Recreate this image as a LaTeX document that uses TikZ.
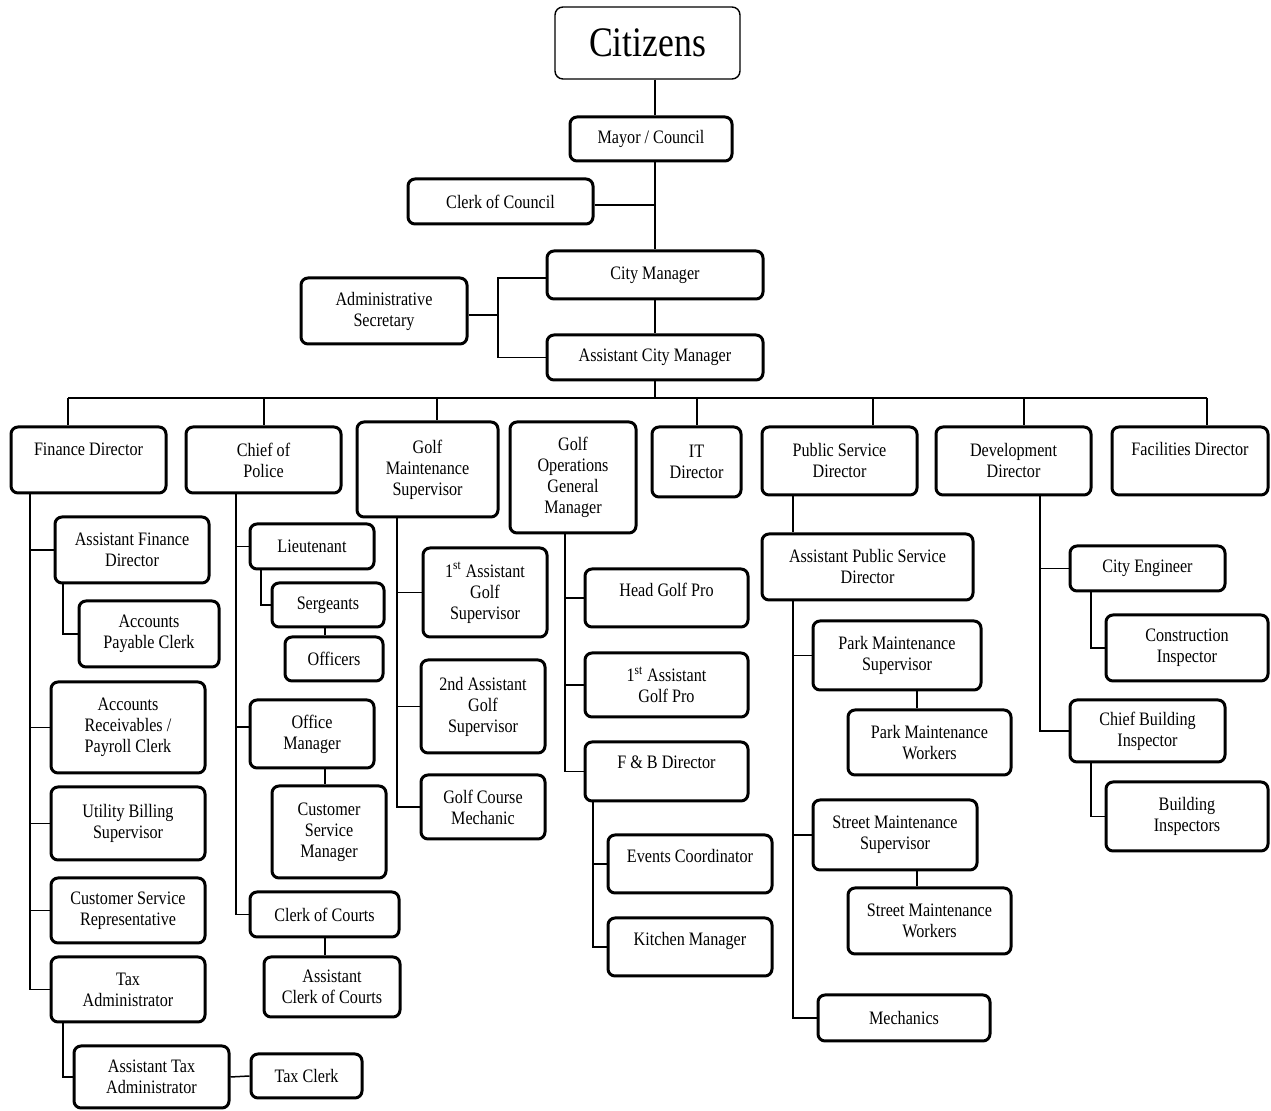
\documentclass[tikz,border=0pt]{standalone}
\usepackage{fontspec}
\setmainfont{Liberation Serif}[FakeStretch=0.85]
\begin{document}
\begin{tikzpicture}[x=0.5pt,y=-0.5pt,
    unit/.style={draw, line width=1.5pt, rounded corners=3.5pt, align=center, inner sep=1pt,
        font=\fontsize{9.5}{10.5}\selectfont},
    sz/.style 2 args={minimum width=#1*0.5pt, minimum height=#2*0.5pt},
    lifted/.style={text height=6.5pt, text depth=#1},
    link/.style={line width=0.75pt}]
    \useasboundingbox (0,0) rectangle (1271,1111);

    % Top of the chart
    \node[draw, line width=0.7pt, rounded corners=4pt, sz={185}{72}, font=\fontsize{21}{24}\selectfont] (cit) at (647.5,43) {Citizens};
    \node[unit, sz={162}{44}] (mayor) at (651,139) {Mayor / Council};
    \node[unit, sz={185}{45}] (clerkc) at (500.5,201.5) {Clerk of Council};
    \node[unit, sz={216}{48}] (cityman) at (655,275) {City Manager};
    \node[unit, sz={166}{66}] (adminsec) at (384,311) {Administrative\\Secretary};
    \node[unit, sz={216}{45}] (acm) at (655,357.5) {Assistant City Manager};

    \draw[link] (cit.south -| acm) -- (mayor.north -| acm);
    \draw[link] (mayor.south -| acm) -- (cityman.north -| acm);
    \draw[link] (clerkc.east |- 0,205) -- (655,205);
    \draw[link] (cityman.south) -- (acm.north);
    \coordinate (asbus) at (498,315);
    \draw[link] (adminsec.east |- asbus) -- (asbus);
    \draw[link] (cityman.west |- 0,278) -| (asbus) |- (acm.west);

    % Department heads
    \node[unit, sz={155}{66}, lifted=11pt] (fin) at (88.5,460) {Finance Director};
    \node[unit, sz={155}{66}] (police) at (263.5,460) {Chief of\\Police};
    \node[unit, sz={141}{95}] (gmaint) at (427.5,469.5) {Golf\\Maintenance\\Supervisor};
    \node[unit, sz={126}{111}] (gops) at (573,477.5) {Golf\\Operations\\General\\Manager};
    \node[unit, sz={89}{70}] (it) at (696.5,462) {IT\\Director};
    \node[unit, sz={155}{68}] (psd) at (839.5,461) {Public Service\\Director};
    \node[unit, sz={155}{68}] (dev) at (1013.5,461) {Development\\Director};
    \node[unit, sz={156}{68}, lifted=12pt] (fac) at (1190,461) {Facilities Director};

    \coordinate (bus) at (655,398);
    \draw[link] (acm.south) -- (bus);
    \draw[link] (68,398) -- (1207,398);
    \foreach \x/\n in {68/fin, 264/police, 437/gmaint, 697/it, 873/psd, 1024/dev, 1207/fac}
        \draw[link] (\x,398) -- (\x,398 |- \n.north);

    % Finance
    \node[unit, sz={154}{66}] (afd) at (132,550) {Assistant Finance\\Director};
    \node[unit, sz={140}{66}] (apc) at (149,634) {Accounts\\Payable Clerk};
    \node[unit, sz={154}{91}] (arpc) at (128,727.5) {Accounts\\Receivables /\\Payroll Clerk};
    \node[unit, sz={154}{73}] (ubs) at (128,823.5) {Utility Billing\\Supervisor};
    \node[unit, sz={154}{65}] (csr) at (128,910.5) {Customer Service\\Representative};
    \node[unit, sz={154}{65}] (tax) at (128,989.5) {Tax\\Administrator};
    \node[unit, sz={155}{62}] (atax) at (151.5,1077) {Assistant Tax\\Administrator};
    \node[unit, sz={111}{44}] (taxclerk) at (306.5,1076) {Tax Clerk};

    \draw[link] (30,0 |- fin.south) |- (tax.west);
    \foreach \n in {afd, arpc, ubs, csr}
        \draw[link] (30,0 |- \n.west) -- (\n.west);
    \draw[link] (63,0 |- afd.south) |- (apc.west);
    \draw[link] (63,0 |- tax.south) |- (atax.west);
    \draw[link] (atax.east) -- (taxclerk.west);

    % Police
    \node[unit, sz={124}{45}] (lt) at (312,546.5) {Lieutenant};
    \node[unit, sz={112}{44}] (sgt) at (328,605) {Sergeants};
    \node[unit, sz={98}{44}] (off) at (334,659) {Officers};
    \node[unit, sz={124}{68}] (offman) at (312,734) {Office\\Manager};
    \node[unit, sz={114}{92}] (csm) at (329,832) {Customer\\Service\\Manager};
    \node[unit, sz={149}{45}] (clerkct) at (324.5,914.5) {Clerk of Courts};
    \node[unit, sz={136}{60}] (aclerk) at (332,987) {Assistant\\Clerk of Courts};

    \draw[link] (236,0 |- police.south) |- (clerkct.west);
    \draw[link] (236,0 |- lt.west) -- (lt.west);
    \draw[link] (236,727) -- (offman.west |- 0,727);
    \draw[link] (261,0 |- lt.south) |- (sgt.west);
    \draw[link] (325,0 |- sgt.south) -- (325,0 |- off.north);
    \draw[link] (325,0 |- offman.south) -- (325,0 |- csm.north);
    \draw[link] (325,0 |- clerkct.south) -- (325,0 |- aclerk.north);

    % Golf maintenance
    \node[unit, sz={124}{89}] (ags1) at (485,592.5) {1\textsuperscript{st} Assistant\\Golf\\Supervisor};
    \node[unit, sz={124}{93}] (ags2) at (483,706.5) {2nd Assistant\\Golf\\Supervisor};
    \node[unit, sz={124}{64}] (gcm) at (483,807) {Golf Course\\Mechanic};

    \draw[link] (397,0 |- gmaint.south) |- (gcm.west);
    \foreach \n in {ags1, ags2}
        \draw[link] (397,0 |- \n.west) -- (\n.west);

    % Golf operations
    \node[unit, sz={163}{58}, lifted=8.2pt] (hgp) at (666.5,598) {Head Golf Pro};
    \node[unit, sz={163}{64}] (agp) at (666.5,685) {1\textsuperscript{st} Assistant\\Golf Pro};
    \node[unit, sz={163}{59}, lifted=9.7pt] (fb) at (666.5,771.5) {F \& B Director};
    \node[unit, sz={164}{58}, lifted=8.2pt] (events) at (690,864) {Events Coordinator};
    \node[unit, sz={164}{58}, lifted=8.2pt] (kitchen) at (690,947) {Kitchen Manager};

    \draw[link] (565,0 |- gops.south) |- (fb.west);
    \foreach \n in {hgp, agp}
        \draw[link] (565,0 |- \n.west) -- (\n.west);
    \draw[link] (593,0 |- fb.south) |- (kitchen.west);
    \draw[link] (593,0 |- events.west) -- (events.west);

    % Public service
    \node[unit, sz={211}{66}] (apsd) at (867.5,567) {Assistant Public Service\\Director};
    \node[unit, sz={168}{69}] (pms) at (897,655.5) {Park Maintenance\\Supervisor};
    \node[unit, sz={163}{65}] (pmw) at (929.5,742.5) {Park Maintenance\\Workers};
    \node[unit, sz={164}{70}] (sms) at (895,835) {Street Maintenance\\Supervisor};
    \node[unit, sz={163}{66}] (smw) at (929.5,921) {Street Maintenance\\Workers};
    \node[unit, sz={172}{46}] (mech) at (904,1018) {Mechanics};

    \draw[link] (793,0 |- psd.south) -- (793,0 |- apsd.north);
    \draw[link] (793,0 |- apsd.south) |- (mech.west);
    \foreach \n in {pms, sms}
        \draw[link] (793,0 |- \n.west) -- (\n.west);
    \draw[link] (917,0 |- pms.south) -- (917,0 |- pmw.north);
    \draw[link] (917,0 |- sms.south) -- (917,0 |- smw.north);

    % Development
    \node[unit, sz={155}{45}] (ce) at (1147.5,568.5) {City Engineer};
    \node[unit, sz={162}{66}] (ci) at (1187,648) {Construction\\Inspector};
    \node[unit, sz={155}{62}] (cbi) at (1147.5,731) {Chief Building\\Inspector};
    \node[unit, sz={162}{69}] (bi) at (1187,816.5) {Building\\Inspectors};

    \draw[link] (1040,0 |- dev.south) |- (cbi.west);
    \draw[link] (1040,0 |- ce.west) -- (ce.west);
    \draw[link] (1091,0 |- ce.south) |- (ci.west);
    \draw[link] (1091,0 |- cbi.south) |- (bi.west);
\end{tikzpicture}
\end{document}
